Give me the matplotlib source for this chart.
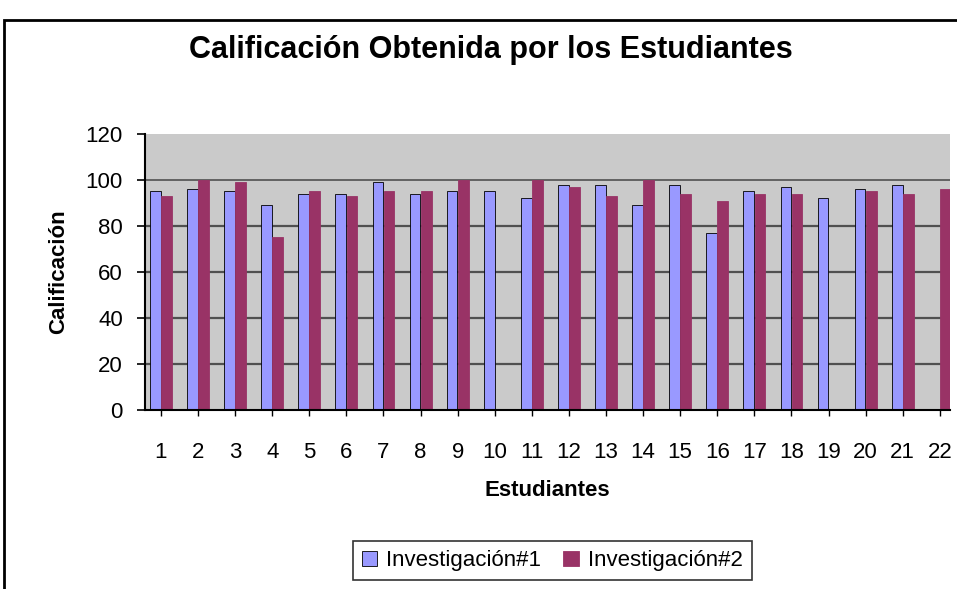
import matplotlib.pyplot as plt
import matplotlib.patches as patches
import numpy as np

plt.rcParams['font.family'] = ['Liberation Sans', 'DejaVu Sans']

# datos
estudiantes = list(range(1, 23))
investigacion1 = [95, 96, 95, 89, 94, 94, 99, 94, 95, 95, 92,
                  98, 98, 89, 98, 77, 95, 97, 92, 96, 98, 0]
investigacion2 = [93, 100, 99, 75, 95, 93, 95, 95, 100, 0, 100,
                  97, 93, 100, 94, 91, 94, 94, 0, 95, 94, 96]
yticks = [0, 20, 40, 60, 80, 100, 120]

fig = plt.figure(figsize=(9.57, 5.89), dpi=100)
ax = fig.add_axes([0.1515, 0.304, 0.841, 0.4686])
ax.set_facecolor('#CACACA')

x = np.array(estudiantes)
for g in [20, 40, 60, 80, 100]:
    ax.axhline(g, color='#505050', lw=1.6 if g < 100 else 1.2, zorder=1)

b1 = ax.bar(x - 0.15, investigacion1, width=0.29, color='#9999FF',
            edgecolor='black', linewidth=0.6, zorder=2, label='Investigación#1')
b2 = ax.bar(x + 0.15, investigacion2, width=0.29, color='#993366',
            edgecolor='#993366', linewidth=0.6, zorder=2, label='Investigación#2')

ax.set_xlim(0.57, 22.27)
ax.set_ylim(0, 120)
ax.set_yticks(yticks)
ax.set_xticks(x)
ax.tick_params(axis='y', labelsize=16, length=6, pad=10, width=1.2)
ax.tick_params(axis='x', labelsize=16, length=4, pad=19, width=1)
for s in ['top', 'right']:
    ax.spines[s].set_visible(False)
ax.spines['left'].set_linewidth(1.5)
ax.spines['bottom'].set_linewidth(1.5)

ax.set_ylabel('Calificación', fontsize=16, fontweight='bold', labelpad=12)
ax.set_xlabel('Estudiantes', fontsize=16, fontweight='bold', labelpad=12)
fig.text(0.513, 0.915, 'Calificación Obtenida por los Estudiantes',
         ha='center', va='center', fontsize=22, fontweight='bold')

leg = fig.legend(handles=[b1, b2], loc='center', bbox_to_anchor=(0.577, 0.048),
                 ncol=2, fontsize=16, frameon=True, fancybox=False,
                 handlelength=0.7, handleheight=0.7, handletextpad=0.4,
                 columnspacing=1.0, borderpad=0.4, borderaxespad=0.3)
leg.get_frame().set_edgecolor('black')
leg.get_frame().set_linewidth(1.2)

# marco exterior
fig.patches.append(patches.Rectangle((0.004, -0.02), 1.1, 0.006 + 0.98,
                                     transform=fig.transFigure, fill=False,
                                     edgecolor='black', linewidth=2))

fig.savefig('out.png', dpi=100)
